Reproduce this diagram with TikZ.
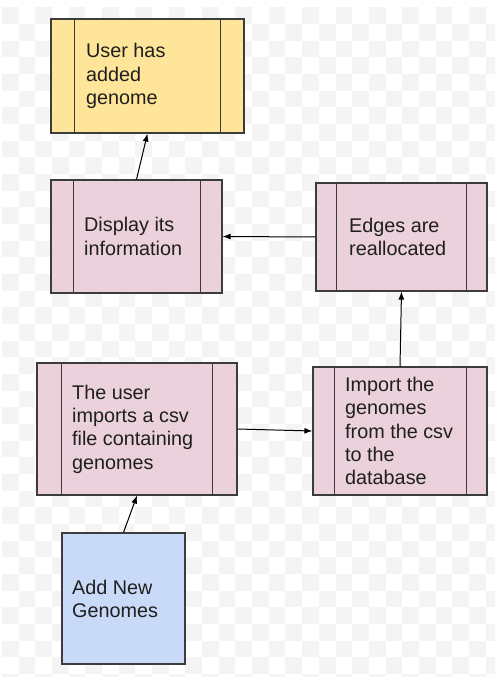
\documentclass[tikz,border=0pt]{standalone}
\usepackage{fontspec}
\setmainfont{Liberation Sans}
\usetikzlibrary{arrows.meta}
\definecolor{bgcheck}{HTML}{F4F4F4}
\definecolor{boxline}{HTML}{3C3C3C}
\definecolor{yellowfill}{HTML}{FFE599}
\definecolor{pinkfill}{HTML}{EAD1DC}
\definecolor{bluefill}{HTML}{C9DAF8}
\definecolor{textcol}{HTML}{1F1F1F}
\tikzset{
  procbox/.style={draw=boxline, line width=1.1pt, inner sep=0pt},
  bar/.style={draw=boxline, line width=1.1pt},
  label/.style={anchor=west, align=left, inner sep=0pt, text=textcol,
    font=\fontsize{19.8}{23.4}\selectfont},
  arr/.style={draw=black, line width=1pt, -{Latex[length=8pt,width=6pt]}}
}
% draws a process box with two inner vertical bars
\newcommand{\procbox}[8]{% name, cx, cy, w, h, fill, left bar offset, right bar offset
  \node[procbox, fill=#6, minimum width=#4pt, minimum height=#5pt] (#1) at (#2,#3) {};
  \draw[bar] ([xshift=#7pt]#1.north west) -- ([xshift=#7pt]#1.south west);
  \draw[bar] ([xshift=-#8pt]#1.north east) -- ([xshift=-#8pt]#1.south east);
}
\begin{document}
\begin{tikzpicture}[x=1pt, y=-1pt]
  \useasboundingbox (0,0) rectangle (495,679);
  \fill[white] (0,0) rectangle (495,679);
  % faint checkerboard backdrop
  \foreach \i in {0,...,29} {
    \foreach \j in {0,...,40} {
      \pgfmathtruncatemacro{\cellpar}{mod(\i+\j,2)}
      \ifnum\cellpar=0
        \fill[bgcheck] ({2.1+\i*16.67},{7.3+\j*16.67}) rectangle ({min(495,2.1+(\i+1)*16.67)},{min(677,7.3+(\j+1)*16.67)});
      \fi
    }
  }

  % boxes
  \procbox{done}{147.5}{76}{193}{114}{yellowfill}{24}{24}
  \procbox{show}{136.5}{236.5}{171}{113}{pinkfill}{23}{22}
  \procbox{edges}{401.5}{237}{171}{108}{pinkfill}{21}{21}
  \procbox{importcsv}{137}{429}{200}{132}{pinkfill}{25}{25}
  \procbox{todb}{400}{431}{174}{128}{pinkfill}{22}{21}
  \node[procbox, fill=bluefill, minimum width=123pt, minimum height=131pt] (start) at (123.5,598.5) {};

  % texts
  \node[label] (tdone) at (86,76) {User has\\added\\genome};
  \node[label] (tshow) at (84,236.5) {Display its\\information};
  \node[label] (tedges) at (349,237) {Edges are\\reallocated};
  \node[label] (timport) at (72,429) {The user\\imports a csv\\file containing\\genomes};
  \node[label] (ttodb) at (345,431) {Import the\\genomes\\from the csv\\to the\\database};
  \node[label] (tstart) at (72,599) {Add New\\Genomes};

  % connectors
  \draw[arr] (start.north) -- (importcsv.south);
  \draw[arr] (importcsv.east) -- (todb.west);
  \draw[arr] (todb.north) -- (edges.south);
  \draw[arr] (edges.west) -- (show.east);
  \draw[arr] (show.north) -- (done.south);
\end{tikzpicture}
\end{document}
